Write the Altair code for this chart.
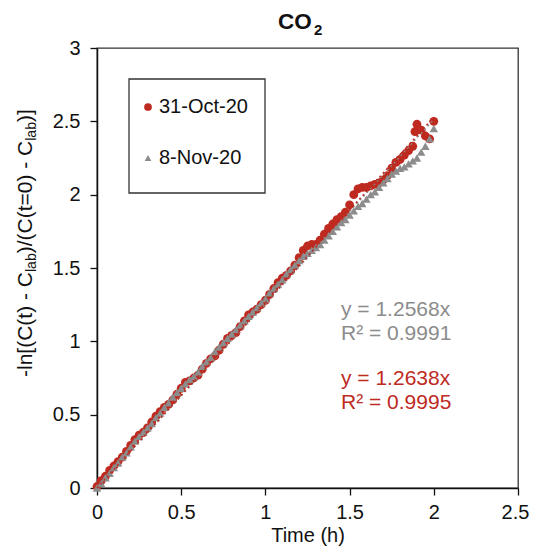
import altair as alt
import pandas as pd

RED = "#BE2A1F"
GRAY = "#8C8C8C"
FONT = "Liberation Sans"

series_names = ["31-Oct-20", "8-Nov-20"]
slopes = [1.2638, 1.2568]
r_squared = ["0.9995", "0.9991"]
trend_span = [0.0, 2.0]

x_ticks = [0, 0.5, 1, 1.5, 2, 2.5]
y_ticks = [0, 0.5, 1, 1.5, 2, 2.5, 3]

gray_time = [0.000, 0.025, 0.050, 0.075, 0.100, 0.125, 0.150, 0.175, 0.200, 0.225,
             0.250, 0.275, 0.300, 0.325, 0.350, 0.375, 0.400, 0.425, 0.450, 0.475,
             0.500, 0.525, 0.550, 0.575, 0.600, 0.625, 0.650, 0.675, 0.700, 0.725,
             0.750, 0.775, 0.800, 0.825, 0.850, 0.875, 0.900, 0.925, 0.950, 0.975,
             1.000, 1.025, 1.050, 1.075, 1.100, 1.125, 1.150, 1.175, 1.200, 1.225,
             1.250, 1.275, 1.300, 1.325, 1.350, 1.375, 1.400, 1.425, 1.450, 1.475,
             1.500, 1.525, 1.550, 1.575, 1.600, 1.625, 1.650, 1.675, 1.700, 1.725,
             1.750, 1.775, 1.800, 1.825, 1.850, 1.875, 1.900, 1.925, 1.950, 1.975,
             2.000]
gray_value = [0.00, 0.03, 0.07, 0.10, 0.14, 0.17, 0.21, 0.24, 0.28, 0.32,
              0.35, 0.38, 0.41, 0.44, 0.48, 0.51, 0.55, 0.58, 0.62, 0.65,
              0.68, 0.71, 0.74, 0.76, 0.79, 0.83, 0.86, 0.89, 0.93, 0.96,
              0.99, 1.02, 1.05, 1.08, 1.11, 1.14, 1.17, 1.20, 1.23, 1.26,
              1.29, 1.33, 1.36, 1.39, 1.42, 1.46, 1.49, 1.52, 1.55, 1.58,
              1.60, 1.62, 1.64, 1.66, 1.69, 1.72, 1.75, 1.78, 1.81, 1.83,
              1.86, 1.89, 1.92, 1.94, 1.97, 2.00, 2.02, 2.05, 2.08, 2.11,
              2.14, 2.16, 2.18, 2.19, 2.21, 2.23, 2.25, 2.29, 2.33, 2.38,
              2.45]

red_time = [0.000, 0.025, 0.050, 0.075, 0.100, 0.125, 0.150, 0.175, 0.200, 0.225,
            0.250, 0.275, 0.300, 0.325, 0.350, 0.375, 0.400, 0.425, 0.450, 0.475,
            0.500, 0.525, 0.550, 0.575, 0.600, 0.625, 0.650, 0.675, 0.700, 0.725,
            0.750, 0.775, 0.800, 0.825, 0.850, 0.875, 0.900, 0.925, 0.950, 0.975,
            1.000, 1.025, 1.050, 1.075, 1.100, 1.125, 1.150, 1.175, 1.200, 1.225,
            1.250, 1.275, 1.300, 1.325, 1.350, 1.375, 1.400, 1.425, 1.450, 1.475,
            1.500, 1.525, 1.550, 1.575, 1.600, 1.625, 1.650, 1.675, 1.700, 1.725,
            1.750, 1.775, 1.800, 1.825, 1.850, 1.875, 1.888, 1.900, 1.925, 1.950,
            1.975, 2.000]
red_value = [0.01, 0.05, 0.08, 0.12, 0.15, 0.18, 0.21, 0.25, 0.29, 0.33,
             0.36, 0.38, 0.41, 0.45, 0.49, 0.52, 0.55, 0.57, 0.60, 0.64,
             0.68, 0.72, 0.73, 0.75, 0.77, 0.81, 0.85, 0.88, 0.90, 0.94,
             0.98, 1.02, 1.04, 1.06, 1.10, 1.14, 1.18, 1.20, 1.22, 1.25,
             1.28, 1.32, 1.36, 1.40, 1.43, 1.45, 1.48, 1.52, 1.57, 1.62,
             1.65, 1.66, 1.66, 1.69, 1.73, 1.77, 1.80, 1.83, 1.85, 1.88,
             1.93, 2.00, 2.04, 2.05, 2.05, 2.06, 2.07, 2.08, 2.10, 2.13,
             2.18, 2.22, 2.24, 2.27, 2.30, 2.33, 2.43, 2.48, 2.44, 2.40,
             2.38, 2.50]

red_df = pd.DataFrame({"t": red_time, "v": red_value})
gray_df = pd.DataFrame({"t": gray_time, "v": gray_value})
trend_red = pd.DataFrame({"t": trend_span, "v": [slopes[0] * t for t in trend_span]})
trend_gray = pd.DataFrame({"t": trend_span, "v": [slopes[1] * t for t in trend_span]})

W, H = 421, 440

x_enc = alt.X("t:Q", scale=alt.Scale(domain=[0, 2.5], nice=False, zero=False),
              axis=alt.Axis(values=x_ticks, title="Time (h)", format="~g",
                            labelFontSize=20, titleFontSize=20, titleFontWeight="normal",
                            tickSize=7, labelPadding=7, titlePadding=3,
                            labelOffset={"condition": {"test": "datum.value == 2.5", "value": -3},
                                         "value": 0},
                            domainColor="#111", domainWidth=1.5, tickColor="#111",
                            tickWidth=1.3, labelColor="#111", titleColor="#111",
                            grid=False, labelFlush=False))
y_enc = alt.Y("v:Q", scale=alt.Scale(domain=[0, 3], nice=False, zero=False),
              axis=alt.Axis(values=y_ticks, title=None, format="~g",
                            labelFontSize=20, tickSize=7, labelPadding=10,
                            domainColor="#111", domainWidth=1.5, tickColor="#111",
                            tickWidth=1.3, labelColor="#111",
                            grid=False, labelFlush=False))

red_pts = alt.Chart(red_df).mark_point(shape="circle", filled=True, size=78,
                                       color=RED, opacity=1).encode(x=x_enc, y=y_enc)
gray_pts = alt.Chart(gray_df).mark_point(shape="triangle-up", filled=True, size=72,
                                         color=GRAY, opacity=1).encode(x=x_enc, y=y_enc)
gray_trend = alt.Chart(trend_gray).mark_line(color=GRAY, strokeWidth=1.5,
                                             strokeDash=[2, 3]).encode(x=x_enc, y=y_enc)
red_trend = alt.Chart(trend_red).mark_line(color=RED, strokeWidth=1.5,
                                           strokeDash=[2, 3]).encode(x=x_enc, y=y_enc)

one = pd.DataFrame({"k": [0]})


def text_layer(txt, x, y, size=20, color="#111", align="left", baseline="middle",
               weight="normal", angle=0):
    d = pd.DataFrame({"label": [txt]})
    return alt.Chart(d).mark_text(align=align, baseline=baseline, fontSize=size,
                                  font=FONT, color=color, fontWeight=weight,
                                  angle=angle).encode(
        text="label:N", x=alt.value(x), y=alt.value(y))


# legend
legend_box = alt.Chart(one).mark_rect(fill="white", stroke="#333", strokeWidth=1.3).encode(
    x=alt.value(32), x2=alt.value(168), y=alt.value(31), y2=alt.value(145))
leg_red = alt.Chart(one).mark_point(shape="circle", filled=True, size=60, color=RED,
                                    opacity=1).encode(x=alt.value(51), y=alt.value(59))
leg_gray = alt.Chart(one).mark_point(shape="triangle-up", filled=True, size=45, color=GRAY,
                                     opacity=1).encode(x=alt.value(51), y=alt.value(110))
leg_t1 = text_layer(series_names[0], 62, 59)
leg_t2 = text_layer(series_names[1], 62, 110)

# equations
eq1 = text_layer(f"y = {slopes[1]:.4f}x", 244, 262, size=21, color=GRAY)
eq2 = text_layer(f"R\u00b2 = {r_squared[1]}", 244, 286, size=21, color=GRAY)
eq3 = text_layer(f"y = {slopes[0]:.4f}x", 244, 331, size=21, color=RED)
eq4 = text_layer(f"R\u00b2 = {r_squared[0]}", 244, 355, size=21, color=RED)

# title CO2
title_a = text_layer("CO", 181, -19.5, size=22.5, weight="bold", baseline="alphabetic")
title_b = text_layer("2", 217, -13.5, size=15, weight="bold", baseline="alphabetic")

# rotated y-axis title with subscripts
ARIAL = {'-': 0.333, 'l': 0.222, 'n': 0.556, '[': 0.278, '(': 0.333, 'C': 0.722,
         't': 0.278, ')': 0.333, ' ': 0.278, '/': 0.278, '=': 0.584, '0': 0.556,
         ']': 0.278, 'a': 0.556, 'b': 0.556}
MAIN, SUB = 21, 14
segments = [("-ln[(C(t) - C", MAIN), ("lab", SUB), (")/(C(t=0) - C", MAIN),
            ("lab", SUB), (")]", MAIN)]
ytitle_layers = []
ypos = 329.0
for s, fs in segments:
    xb = -65 if fs == MAIN else -61
    ytitle_layers.append(text_layer(s, xb, ypos, size=fs, baseline="alphabetic", angle=270))
    ypos -= sum(ARIAL[c] for c in s) * fs

chart = alt.layer(
    red_pts, gray_pts, gray_trend, red_trend,
    legend_box, leg_red, leg_gray, leg_t1, leg_t2,
    eq1, eq2, eq3, eq4, title_a, title_b, *ytitle_layers
).properties(
    width=W, height=H,
    autosize=alt.AutoSizeParams(type="none"),
    padding={"left": 89, "top": 40, "right": 11, "bottom": 60},
    background="white",
).configure(font=FONT).configure_view(stroke="#333", strokeWidth=1.3)

chart.save("out.html", embed_options={"renderer": "svg", "actions": False})
